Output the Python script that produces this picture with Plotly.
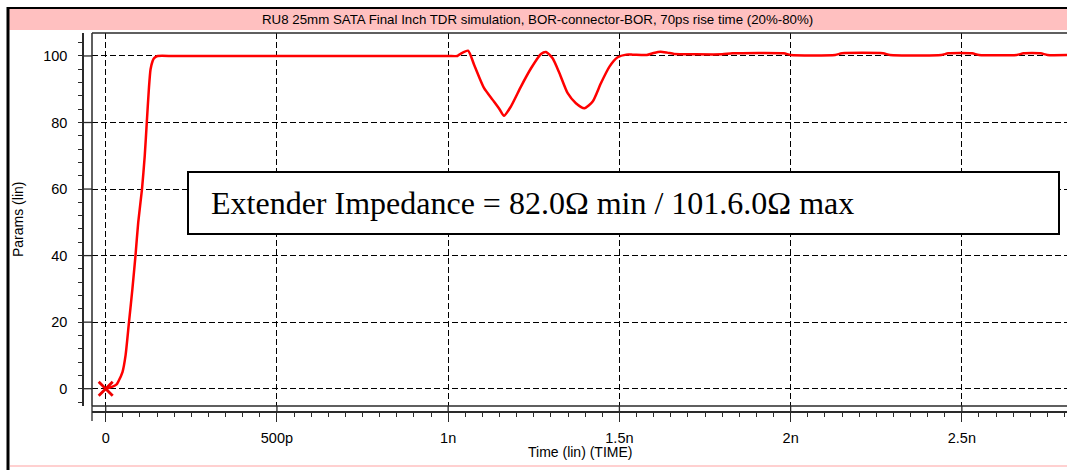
import plotly.graph_objects as go

# ---------------- data ----------------
time_ns = [0, 0.01, 0.02, 0.031, 0.036, 0.049, 0.058, 0.068, 0.078, 0.087, 0.095,
           0.106, 0.114, 0.120, 0.126, 0.131, 0.137, 0.141, 0.147, 0.152, 0.2, 0.4,
           0.6, 0.8, 1.0, 1.027, 1.037, 1.058, 1.076, 1.105, 1.13, 1.15, 1.163,
           1.183, 1.2125, 1.242, 1.271, 1.286, 1.305, 1.325, 1.349, 1.373, 1.398,
           1.422, 1.446, 1.471, 1.495, 1.52, 1.539, 1.58, 1.60, 1.62, 1.64, 1.66,
           1.72, 1.80, 1.83, 1.98, 2.00, 2.13, 2.15, 2.27, 2.29, 2.44, 2.46, 2.53,
           2.55, 2.66, 2.68, 2.73, 2.75, 2.81]
params = [0, 0.3, 0.6, 1.2, 2, 5, 10, 20, 30, 40, 50,
          60, 70, 80, 90, 96, 98.5, 99.3, 99.8, 100, 100, 100,
          100, 100, 100, 100, 100.7, 101.6, 97.3, 90.3, 86.8, 84.0, 82.0,
          84.8, 90.8, 96.3, 100.6, 101.2, 99.3, 94.8, 88.8, 85.8, 84.3,
          86.3, 91.8, 96.8, 99.6, 100.4, 100.4, 100.3, 100.9, 101.3, 101.0, 100.6,
          100.5, 100.5, 100.8, 100.8, 100.3, 100.3, 100.8, 100.8, 100.3, 100.3, 100.8, 100.8,
          100.3, 100.3, 100.8, 100.8, 100.3, 100.3]

x_tickvals = [0, 0.5, 1.0, 1.5, 2.0, 2.5]
x_ticktext = ["0", "500p", "1n", "1.5n", "2n", "2.5n"]
y_tickvals = [0, 20, 40, 60, 80, 100]
y_ticktext = ["0", "20", "40", "60", "80", "100"]

title_text = "RU8 25mm SATA Final Inch TDR simulation, BOR-connector-BOR, 70ps rise time (20%-80%)"
note_text = "Extender Impedance = 82.0\u03a9 min / 101.6.0\u03a9 max"
x_title = "Time (lin) (TIME)"
y_title = "Params (lin)"

# ---------------- geometry helpers (pixels -> paper) ----------------
W, H = 1067, 470
ML, MR, MT, MB = 83, 0, 33, 58
PW = W - ML - MR
PH = H - MT - MB


def px(p):
    return (p - ML) / PW


def py(p):
    return (H - MB - p) / PH


AX = "#2a2a2a"
SANS = "Liberation Sans, Arial, sans-serif"

fig = go.Figure()
fig.add_trace(go.Scatter(
    x=time_ns, y=params, mode="lines",
    line=dict(color="#ff0000", width=2.5, shape="spline", smoothing=0.6),
    hoverinfo="skip", showlegend=False))
fig.add_trace(go.Scatter(
    x=[time_ns[0]], y=[params[0]], mode="markers",
    marker=dict(symbol="x-thin", size=14, line=dict(color="#ee0000", width=2.8)),
    hoverinfo="skip", showlegend=False))

fig.update_layout(
    width=W, height=H,
    margin=dict(l=ML, r=MR, t=MT, b=MB),
    paper_bgcolor="white", plot_bgcolor="white",
    showlegend=False,
    xaxis=dict(
        domain=[px(92), 1], anchor="free", position=0,
        range=[-0.040, 2.807],
        tickvals=x_tickvals, ticktext=x_ticktext,
        ticks="outside", ticklen=9, tickwidth=1.3, tickcolor=AX,
        showline=True, linecolor=AX, linewidth=1.5,
        showgrid=True, gridcolor="#000000", gridwidth=1, griddash="6px,3px",
        zeroline=False,
        minor=dict(dtick=0.05, tick0=0, ticks="outside", ticklen=4,
                   tickwidth=1.2, tickcolor=AX, showgrid=False),
        tickfont=dict(family=SANS, size=14.5, color="#000"),
        ticklabelstandoff=4,
    ),
    yaxis=dict(
        domain=[py(406), 1], anchor="free", position=0,
        range=[-5.2, 106.9],
        tickvals=y_tickvals, ticktext=y_ticktext,
        ticks="outside", ticklen=4, tickwidth=1.3, tickcolor=AX,
        showline=True, linecolor=AX, linewidth=1.5,
        showgrid=True, gridcolor="#000000", gridwidth=1, griddash="6px,3px",
        zeroline=False,
        minor=dict(dtick=4, tick0=0, ticks="outside", ticklen=4,
                   tickwidth=1.2, tickcolor=AX, showgrid=False),
        tickfont=dict(family=SANS, size=14.5, color="#000"),
        ticklabelstandoff=8,
    ),
)

shapes = []
# outer window frame
shapes.append(dict(type="rect", xref="paper", yref="paper",
                   x0=px(9), x1=px(1068), y0=py(30), y1=py(9),
                   fillcolor="#ffc0c0", line=dict(width=0), layer="above"))
shapes.append(dict(type="line", xref="paper", yref="paper",
                   x0=px(7), x1=px(1068), y0=py(8), y1=py(8),
                   line=dict(color="#000", width=2), layer="above"))
shapes.append(dict(type="line", xref="paper", yref="paper",
                   x0=px(8), x1=px(8), y0=py(7), y1=py(471),
                   line=dict(color="#000", width=3), layer="above"))
shapes.append(dict(type="line", xref="paper", yref="paper",
                   x0=px(10), x1=px(1068), y0=py(466), y1=py(466),
                   line=dict(color="#ffd0d0", width=2), layer="above"))
# plot frame (left, top, bottom)
for (x0, x1, y0, y1) in [(0, 0, 0, 1), (0, 1.01, 1, 1), (0, 1.01, 0, 0)]:
    shapes.append(dict(type="line", xref="x domain", yref="y domain",
                       x0=x0, x1=x1, y0=y0, y1=y1,
                       line=dict(color=AX, width=1.5), layer="above"))
# inner parts of the major ticks (between axis line and plot frame)
for v in y_tickvals:
    shapes.append(dict(type="line", xref="paper", yref="y",
                       x0=0, x1=px(92), y0=v, y1=v,
                       line=dict(color=AX, width=1.3), layer="above"))
for v in x_tickvals:
    shapes.append(dict(type="line", xref="x", yref="paper",
                       x0=v, x1=v, y0=0, y1=py(406),
                       line=dict(color=AX, width=1.3), layer="above"))
# tick at the left end of the x axis
shapes.append(dict(type="line", xref="paper", yref="paper",
                   x0=px(92), x1=px(92), y0=py(406), y1=py(421),
                   line=dict(color=AX, width=1.3), layer="above"))
# annotation box
shapes.append(dict(type="rect", xref="paper", yref="paper",
                   x0=px(188), x1=px(1059), y0=py(234), y1=py(172),
                   fillcolor="white", line=dict(color="#000", width=2), layer="above"))
fig.update_layout(shapes=shapes)

annotations = [
    dict(text=title_text, xref="paper", yref="paper", x=px(537), y=py(19.5),
         xanchor="center", yanchor="middle", showarrow=False,
         font=dict(family=SANS, size=13.3, color="#000")),
    dict(text=note_text, xref="paper", yref="paper", x=px(209), y=py(203),
         xanchor="left", yanchor="middle", showarrow=False,
         font=dict(family="Liberation Serif, Times New Roman, serif", size=32, color="#000")),
    dict(text=x_title, xref="paper", yref="paper", x=px(580), y=py(452),
         xanchor="center", yanchor="middle", showarrow=False,
         font=dict(family=SANS, size=14, color="#000")),
    dict(text=y_title, xref="paper", yref="paper", x=px(18), y=py(220),
         xanchor="center", yanchor="middle", showarrow=False, textangle=-90,
         font=dict(family=SANS, size=14, color="#000")),
]
fig.update_layout(annotations=annotations)

fig.write_html(
    "out.html",
    config={"displayModeBar": False},
    post_script="document.body.style.margin='0';document.body.style.padding='0';"
                "document.body.style.overflow='hidden';",
)
